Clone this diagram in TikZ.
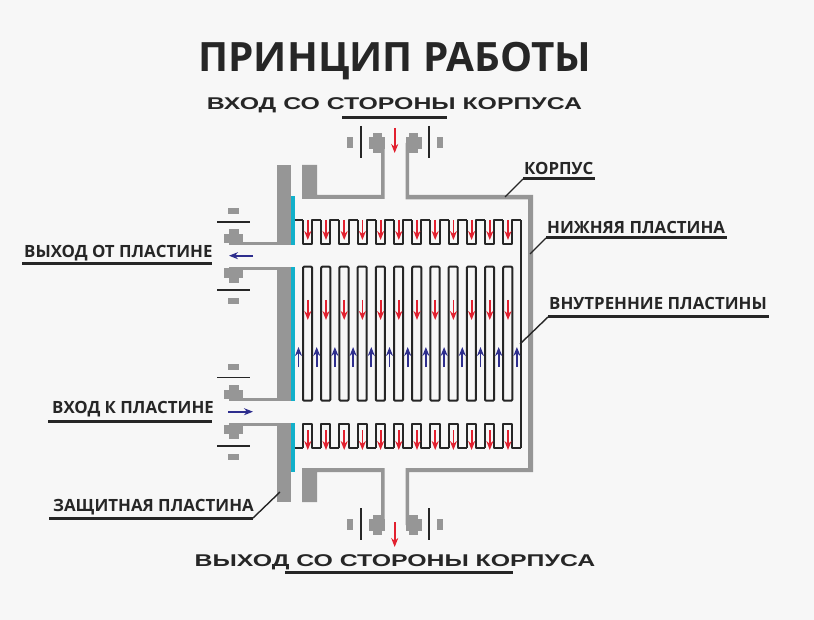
\documentclass[tikz,border=0pt]{standalone}
\usepackage{fontspec}
\setmainfont{Open Sans}
\newfontfamily\widefont{Liberation Sans}
\usetikzlibrary{arrows.meta}
\definecolor{paper}{HTML}{F7F7F7}
\definecolor{shell}{HTML}{969696}
\definecolor{seal}{HTML}{12B0CA}
\definecolor{inkline}{HTML}{262626}
\definecolor{flowred}{HTML}{E2202F}
\definecolor{flowblue}{HTML}{2E2E8E}
\tikzset{
  plateline/.style={inkline, line width=2pt, line join=round},
  redflow/.style={flowred, line width=1.8pt, -{Stealth[length=9pt,width=7pt]}},
  blueflow/.style={flowblue, line width=1.8pt, -{Stealth[length=9pt,width=7pt]}},
  sidelabel/.style={anchor=base west, inner sep=0pt, font=\bfseries\fontsize{16.85}{18}\selectfont, text=inkline},
  widelabel/.style={anchor=base, inner sep=0pt, font=\widefont\bfseries\fontsize{17}{19}\selectfont, text=inkline},
  underline/.style={inkline, line width=3pt},
  leader/.style={inkline, line width=1.4pt},
  topfit/.pic={
    \fill[shell] (-16,-6.3) rectangle (0,6.3);
    \fill[shell] (-12,-10.3) rectangle (-3,9.7);
    \fill[shell] (-37.5,-6) rectangle (-31.5,5);
    \draw[inkline, line width=1.3pt] (-23.5,-17) -- (-23.5,15);
  },
  sidefit/.pic={
    \fill[shell] (-9.5,-11) rectangle (9.5,-1.5);
    \fill[shell] (-5,-16) rectangle (5,0);
    \fill[shell] (-5.5,-37) rectangle (5.5,-31);
    \draw[inkline, line width=1.3pt] (-16.5,-23) -- (16.5,-23);
  }
}
\begin{document}
\begin{tikzpicture}[x=1pt,y=-1pt]
\fill[paper] (0,0) rectangle (814,620);
\useasboundingbox (0,0) rectangle (814,620);

% Titles
\node[anchor=base, inner sep=0pt, font=\bfseries\fontsize{40.4}{44}\selectfont, text=inkline] (title) at (395,71.5) {ПРИНЦИП РАБОТЫ};
\node[widelabel, xscale=1.46] (inlet) at (394.5,109.5) {ВХОД СО СТОРОНЫ КОРПУСА};
\node[widelabel, xscale=1.46] (outlet) at (395,566) {ВЫХОД СО СТОРОНЫ КОРПУСА};

% Front flange and seal
\fill[shell] (277,165) rectangle (291,245);
\fill[shell] (277,267) rectangle (291,400.5);
\fill[shell] (277,423) rectangle (291,502);
\fill[seal] (291,196) rectangle (294.5,245);
\fill[seal] (291,267) rectangle (294.5,400.5);
\fill[seal] (291,423) rectangle (294.5,472);

% Side pipes
\fill[shell] (238,242) rectangle (277,245);
\fill[shell] (238,267) rectangle (277,270);
\fill[shell] (238,398) rectangle (277,400.5);
\fill[shell] (238,423) rectangle (277,425.5);
\foreach \py/\dir in {245/1, 267/-1, 400.5/1, 423/-1}
  \pic[yscale=\dir] at (233.7,\py) {sidefit};

% Shell
\fill[shell] (302,165) -- (317,165) -- (317,195) -- (381,195) -- (381,143) -- (384.5,143) -- (384.5,199) -- (302,199) -- cycle;
\fill[shell] (302,502) -- (317,502) -- (317,472) -- (381,472) -- (381,525) -- (384.5,525) -- (384.5,468) -- (302,468) -- cycle;
\fill[shell] (405.5,143) -- (409,143) -- (409,195) -- (533,195) -- (533,472) -- (409,472) -- (409,525) -- (405.5,525) -- (405.5,468) -- (528,468) -- (528,199.5) -- (405.5,199.5) -- cycle;
\foreach \py in {143,525} {
  \pic at (384.5,\py) {topfit};
  \pic[xscale=-1] at (405.5,\py) {topfit};
}

% Outer plates
\foreach \ya/\yb in {220.5/244.5, 447.5/423.5} {
  \draw[plateline] (294.5,\ya) -- (303,\ya);
  \foreach \k in {0,...,11} {
    \pgfmathsetmacro{\xa}{303+18.2*\k}
    \draw[plateline] (\xa,\ya) -- (\xa,\yb) -- (\xa+9.1,\yb) -- (\xa+9.1,\ya) -- (\xa+18.2,\ya);
  }
}
\draw[plateline] (521.4,220.5) -- (521.4,447.5);

% Inner plates
\foreach \k in {0,...,11} {
  \pgfmathsetmacro{\xa}{303+18.2*\k}
  \draw[plateline, rounded corners=1pt] (\xa,266.7) rectangle (\xa+9.1,400.7);
}

% Flow arrows
\foreach \k in {0,...,11} {
  \pgfmathsetmacro{\xa}{307.8+18.2*\k}
  \draw[redflow] (\xa,220) -- (\xa,240);
  \draw[redflow] (\xa,300) -- (\xa,320);
  \draw[redflow] (\xa,430) -- (\xa,450);
}
\foreach \k in {0,...,12} {
  \pgfmathsetmacro{\xa}{298.5+18.2*\k}
  \draw[blueflow] (\xa,367) -- (\xa,347);
}
\draw[redflow] (394.7,128) -- (394.7,153);
\draw[redflow] (394.7,522) -- (394.7,547);
\draw[blueflow] (253,255.7) -- (229,255.7);
\draw[blueflow] (228,411.7) -- (253,411.7);

% Labels
\node[sidelabel] (korpus) at (524,175) {КОРПУС};
\node[sidelabel] (lowerplate) at (547,234) {НИЖНЯЯ ПЛАСТИНА};
\node[sidelabel] (innerplates) at (549,310) {ВНУТРЕННИЕ ПЛАСТИНЫ};
\node[sidelabel] (platein) at (52,413) {ВХОД К ПЛАСТИНЕ};
\node[sidelabel] (plateout) at (24,258) {ВЫХОД ОТ ПЛАСТИНЕ};
\node[sidelabel] (guard) at (53,511.5) {ЗАЩИТНАЯ ПЛАСТИНА};

% Underlines
\coordinate (inletL) at (342,118);
\coordinate (inletR) at (447,118);
\coordinate (outletL) at (285,572);
\coordinate (outletR) at (513,572);
\coordinate (korpusL) at (523,179);
\coordinate (korpusR) at (595,179);
\coordinate (lowerL) at (546,238);
\coordinate (lowerR) at (727,238);
\coordinate (innerL) at (548,317);
\coordinate (innerR) at (769,317);
\coordinate (outL) at (22,264);
\coordinate (outR) at (212,264);
\coordinate (inL) at (48,421);
\coordinate (inR) at (212,421);
\coordinate (guardL) at (49,518);
\coordinate (guardR) at (253,518);
\foreach \a/\b in {inletL/inletR, outletL/outletR, korpusL/korpusR, lowerL/lowerR, innerL/innerR, outL/outR, inL/inR, guardL/guardR}
  \draw[underline] (\a) -- (\b);

% Leaders
\coordinate (korpusTip) at (505,197);
\coordinate (lowerTip) at (530,254);
\coordinate (innerTip) at (520,344);
\coordinate (guardTip) at (280,492);
\draw[leader] (korpusL) -- (korpusTip);
\draw[leader] (lowerL) -- (lowerTip);
\draw[leader] (innerL) -- (innerTip);
\draw[leader] (guardR) -- (guardTip);
\end{tikzpicture}
\end{document}
